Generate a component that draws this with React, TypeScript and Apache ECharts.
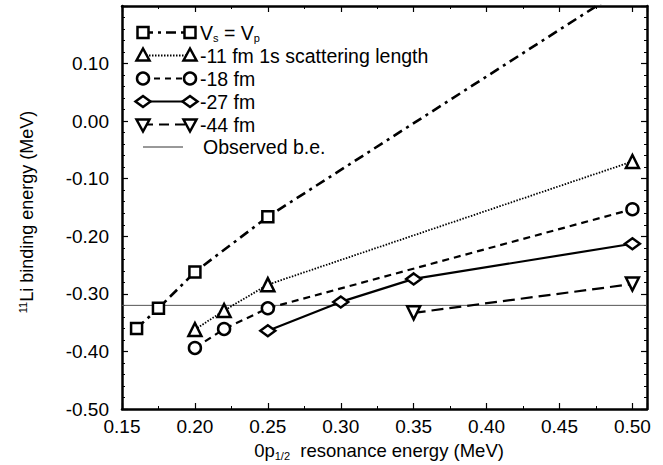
import React, { useEffect, useRef } from "react";
import * as echarts from "echarts";

// ---- data ----
const legendNames = ["-11 fm 1s scattering length", "-18 fm", "-27 fm", "-44 fm", "Observed b.e."];
const vsVpX = [0.16, 0.175, 0.2, 0.25, 0.5];
const vsVpY = [-0.36, -0.325, -0.262, -0.166, 0.24];
const fm11X = [0.2, 0.22, 0.25, 0.5];
const fm11Y = [-0.362, -0.329, -0.284, -0.07];
const fm18X = [0.2, 0.22, 0.25, 0.5];
const fm18Y = [-0.394, -0.361, -0.325, -0.153];
const fm27X = [0.25, 0.3, 0.35, 0.5];
const fm27Y = [-0.364, -0.314, -0.274, -0.213];
const fm44X = [0.35, 0.5];
const fm44Y = [-0.333, -0.283];
const observedBE = -0.32;
const xRange = [0.15, 0.51];
const yRange = [-0.5, 0.2];

const FONT = "'Liberation Sans', Arial, Helvetica, sans-serif";
const zip = (xs: number[], ys: number[]) => xs.map((x, i) => [x, ys[i]]);

const markerStyle = { color: "#fff", borderColor: "#000", borderWidth: 2.5 };

export default function App() {
  const ref = useRef<HTMLDivElement>(null);
  useEffect(() => {
    document.body.style.margin = "0";
    const chart = echarts.init(ref.current!, undefined, { renderer: "svg" });

    const mkSeries = (
      name: string,
      data: number[][],
      symbol: string,
      symbolSize: any,
      lineType: any,
      width: number,
      rotate = 0
    ) => ({
      name,
      type: "line",
      data,
      symbol,
      symbolSize,
      symbolRotate: rotate,
      showAllSymbol: true,
      clip: true,
      lineStyle: { color: "#000", width, type: lineType },
      itemStyle: markerStyle,
      z: 3,
    });

    // legend graphic
    const rowsY = [32.5, 55.5, 78.5, 101.5, 124.5, 147];
    const lx1 = 143;
    const lx2 = 190;
    const tx = 200;
    const lineDashes: any[] = [[10, 5, 3, 5], [1.5, 1.5], [6, 5], null, [10, 6]];
    const widths = [2.5, 1.8, 2.2, 2.2, 2.2];
    const marker = (kind: string, cx: number, cy: number) => {
      const st = { fill: "#fff", stroke: "#000", lineWidth: 2.5 };
      if (kind === "rect") return { type: "rect", shape: { x: cx - 5.5, y: cy - 5.5, width: 11, height: 11 }, style: st, z: 5 };
      if (kind === "circle") return { type: "circle", shape: { cx, cy, r: 6 }, style: st, z: 5 };
      if (kind === "tri")
        return { type: "polygon", shape: { points: [[cx, cy - 7], [cx + 6.5, cy + 5], [cx - 6.5, cy + 5]] }, style: st, z: 5 };
      if (kind === "itri")
        return { type: "polygon", shape: { points: [[cx, cy + 7], [cx + 6.5, cy - 5], [cx - 6.5, cy - 5]] }, style: st, z: 5 };
      return { type: "polygon", shape: { points: [[cx - 7.5, cy], [cx, cy - 5.5], [cx + 7.5, cy], [cx, cy + 5.5]] }, style: st, z: 5 };
    };
    const kinds = ["rect", "tri", "circle", "diamond", "itri"];
    const legendEls: any[] = [];
    kinds.forEach((k, i) => {
      const y = rowsY[i];
      legendEls.push({
        type: "line",
        shape: { x1: lx1, y1: y, x2: lx2, y2: y },
        style: { stroke: "#000", lineWidth: widths[i], lineDash: lineDashes[i] || undefined },
        z: 4,
      });
      legendEls.push(marker(k, lx1, y));
      legendEls.push(marker(k, lx2, y));
    });
    legendEls.push({
      type: "line",
      shape: { x1: 143, y1: rowsY[5], x2: 183, y2: rowsY[5] },
      style: { stroke: "#333", lineWidth: 1 },
    });
    legendEls.push({
      type: "text",
      x: tx,
      y: rowsY[0],
      style: {
        text: "{n|V}{s|s}{n| = V}{s|p}",
        rich: {
          n: { fontSize: 19.5, fontFamily: FONT, fill: "#000", verticalAlign: "middle" },
          s: { fontSize: 11, fontFamily: FONT, fill: "#000", verticalAlign: "bottom", padding: [10, 0, 0, 0] },
        },
        verticalAlign: "middle",
        align: "left",
      },
    });
    legendNames.forEach((t, i) => {
      legendEls.push({
        type: "text",
        x: i === 4 ? 203 : tx,
        y: rowsY[i + 1],
        style: { text: t, fontSize: 19.5, fontFamily: FONT, fill: "#000", verticalAlign: "middle", align: "left" },
      });
    });
    // axis titles
    legendEls.push({
      type: "text",
      x: 27,
      y: 212,
      rotation: Math.PI / 2,
      style: {
        text: "{sup|11}{n|Li binding energy (MeV)}",
        rich: {
          n: { fontSize: 18, fontFamily: FONT, fill: "#000", verticalAlign: "middle" },
          sup: { fontSize: 11, fontFamily: FONT, fill: "#000", verticalAlign: "top", padding: [0, 0, 8, 0] },
        },
        align: "center",
        verticalAlign: "middle",
      },
    });
    legendEls.push({
      type: "text",
      x: 379,
      y: 450,
      style: {
        text: "{n|0p}{s|1/2}{n|  resonance energy (MeV)}",
        rich: {
          n: { fontSize: 18.5, fontFamily: FONT, fill: "#000", verticalAlign: "middle" },
          s: { fontSize: 11, fontFamily: FONT, fill: "#000", verticalAlign: "bottom", padding: [12, 0, 0, 0] },
        },
        align: "center",
        verticalAlign: "middle",
      },
    });

    const axisCommon = {
      type: "value",
      axisLine: { show: true, onZero: false, lineStyle: { color: "#000", width: 2.5 } },
      axisTick: { show: true, inside: true, length: 6, lineStyle: { color: "#000", width: 1.2 } },
      minorTick: { show: true, length: 3, lineStyle: { color: "#000", width: 1 } },
      splitLine: { show: false },
    };
    const xFmt = (v: number) => {
      const k = Math.round(v / 0.05);
      return Math.abs(v - k * 0.05) < 1e-6 ? v.toFixed(2) : "";
    };
    const yFmt = (v: number) => (v > 0.15 ? "" : v.toFixed(2));

    chart.setOption({
      animation: false,
      backgroundColor: "#fff",
      grid: { left: 122, top: 6, right: 16, bottom: 56 },
      xAxis: [
        {
          ...axisCommon,
          position: "bottom",
          min: xRange[0],
          max: xRange[1],
          interval: 0.05,
          minorTick: { ...axisCommon.minorTick, splitNumber: 2 },
          axisLabel: { color: "#000", fontSize: 19, fontFamily: FONT, margin: 8, formatter: xFmt },
        },
        {
          ...axisCommon,
          position: "top",
          min: xRange[0],
          max: xRange[1],
          interval: 0.05,
          minorTick: { ...axisCommon.minorTick, splitNumber: 2 },
          axisLabel: { show: false },
        },
      ],
      yAxis: [
        {
          ...axisCommon,
          position: "left",
          min: yRange[0],
          max: yRange[1],
          interval: 0.1,
          minorTick: { ...axisCommon.minorTick, splitNumber: 5 },
          axisLabel: { color: "#000", fontSize: 19, fontFamily: FONT, margin: 13, formatter: yFmt },
        },
        {
          ...axisCommon,
          position: "right",
          min: yRange[0],
          max: yRange[1],
          interval: 0.1,
          minorTick: { ...axisCommon.minorTick, splitNumber: 5 },
          axisLabel: { show: false },
        },
      ],
      series: [
        {
          name: "Observed b.e.",
          type: "line",
          data: [
            [xRange[0], observedBE],
            [xRange[1], observedBE],
          ],
          symbol: "none",
          lineStyle: { color: "#555", width: 1 },
          z: 1,
        },
        mkSeries("Vs = Vp", zip(vsVpX, vsVpY), "rect", 11, [10, 5, 3, 5], 2.6),
        mkSeries("-11 fm", zip(fm11X, fm11Y), "triangle", 13, [1.5, 1.5], 1.8),
        mkSeries("-18 fm", zip(fm18X, fm18Y), "circle", 12, [7, 5], 2.2),
        mkSeries("-27 fm", zip(fm27X, fm27Y), "diamond", [15, 11], "solid", 2.2),
        mkSeries("-44 fm", zip(fm44X, fm44Y), "triangle", 13, [12, 6], 2.2, 180),
      ],
      graphic: legendEls,
    });
    return () => chart.dispose();
  }, []);
  return (
    <div
      ref={ref}
      style={{ width: 663, height: 465, position: "absolute", left: 0, top: 0, background: "#fff" }}
    />
  );
}
